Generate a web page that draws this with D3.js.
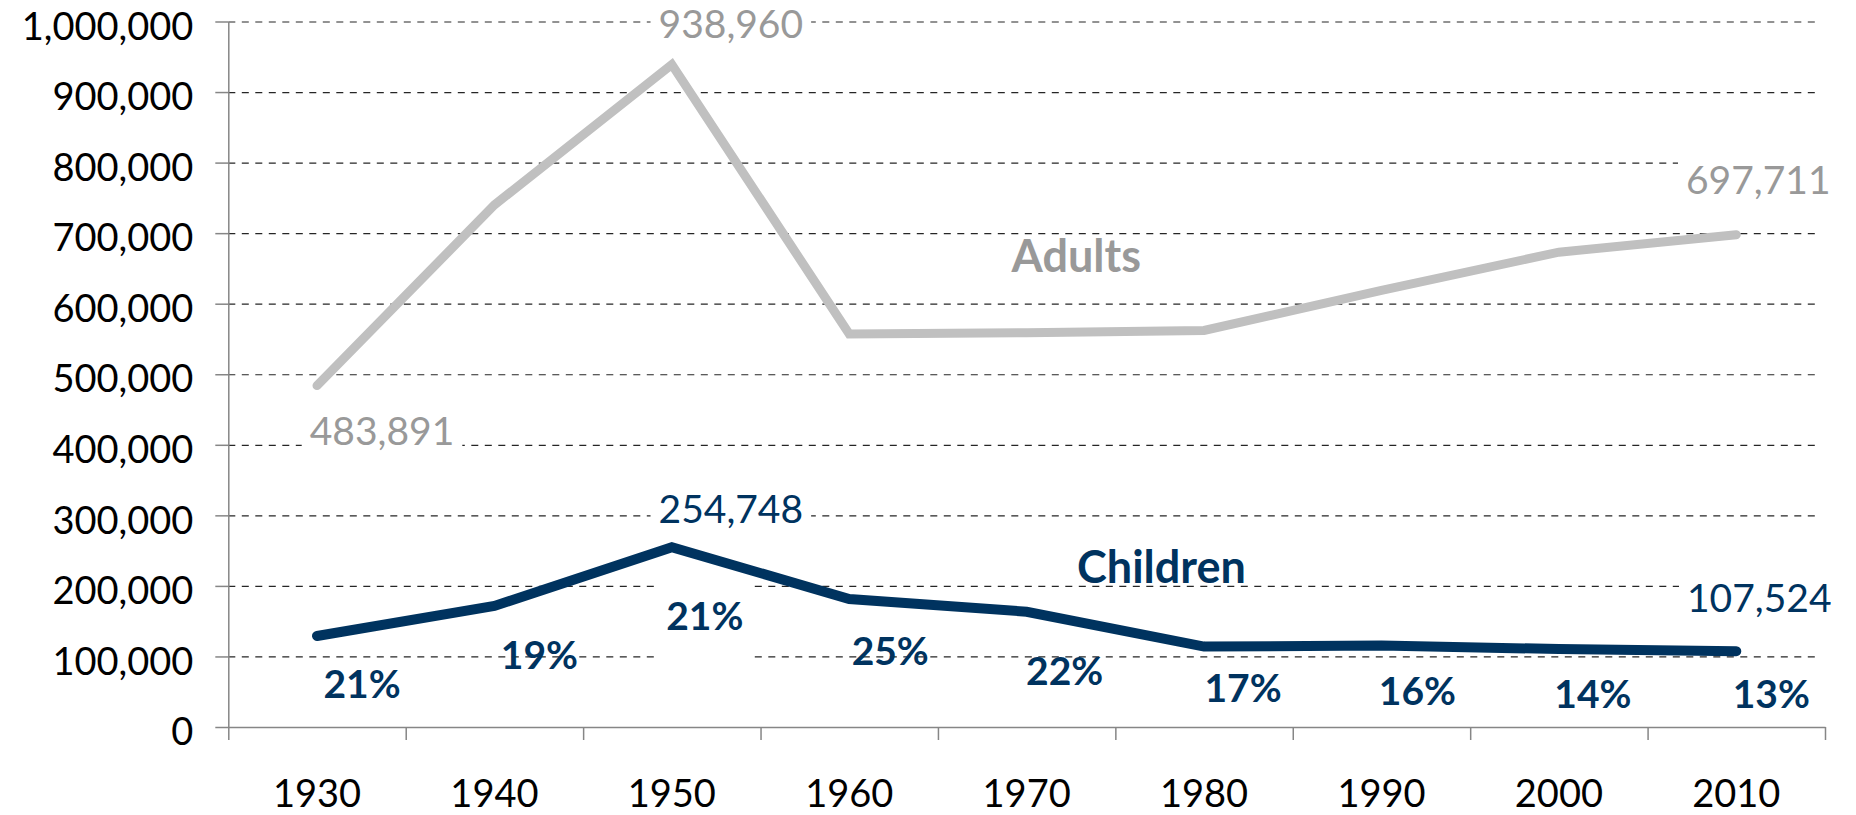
<!DOCTYPE html>
<html><head><meta charset="utf-8">
<script src="https://cdn.jsdelivr.net/npm/d3@7"></script>
<style>html,body{margin:0;padding:0;background:#fff;} svg{display:block;}</style>
</head><body><svg id="chart" width="1856" height="815"></svg>
<script>
// ---- data ----
const years = ["1930","1940","1950","1960","1970","1980","1990","2000","2010"];
const adults = [483891, 740000, 938960, 557000, 559000, 562000, 619000, 673000, 697711];
const children = [129000, 171500, 254748, 181500, 163400, 114000, 115500, 110500, 107524];
const childShare = ["21%","19%","21%","25%","22%","17%","16%","14%","13%"];
const yTickValues = [0,100000,200000,300000,400000,500000,600000,700000,800000,900000,1000000];

// ---- layout ----
const plot = {left:228.3, right:1825, top:21.5, bottom:727};
const FONT = "Lato, 'Open Sans', sans-serif";
const NAVY = "#00335f", GREY_LINE = "#c0c0c0", GREY_TXT = "#999999";
const svg = d3.select("#chart");
const x = d3.scaleBand().domain(years).range([plot.left, plot.right]).padding(0);
const bw = x.bandwidth();
const xc = d => x(d) + bw/2;
const y = d3.scaleLinear().domain([0,1000000]).range([plot.bottom, plot.top]);

// gridlines
svg.append("g").attr("transform",`translate(${plot.left},0)`)
  .call(d3.axisLeft(y).tickValues(yTickValues.filter(v=>v>0)).tickSize(-(plot.right-6-plot.left)).tickFormat(""))
  .call(g=>g.select(".domain").remove())
  .call(g=>g.selectAll("line").attr("stroke","#262626").attr("stroke-width",1.2).attr("stroke-dasharray","7,6.5"));

// y axis
svg.append("g").attr("transform",`translate(${plot.left},0)`)
  .call(d3.axisLeft(y).tickValues(yTickValues).tickSize(13).tickSizeOuter(0).tickPadding(22).tickFormat(d3.format(",")))
  .call(g=>g.select(".domain").attr("stroke","#868686").attr("stroke-width",1.5))
  .call(g=>g.selectAll(".tick line").attr("stroke","#868686").attr("stroke-width",1.5))
  .call(g=>g.selectAll("text").attr("dy",17.7).attr("font-family",FONT).attr("font-size",38).attr("fill","#000"));

// x axis boundaries
const xb = d3.scaleLinear().domain([0, years.length]).range([plot.left, plot.right]);
svg.append("g").attr("transform",`translate(0,${plot.bottom})`)
  .call(d3.axisBottom(xb).tickValues(d3.range(years.length+1)).tickSize(13).tickSizeOuter(0).tickFormat(""))
  .call(g=>g.select(".domain").attr("stroke","#868686").attr("stroke-width",1.5))
  .call(g=>g.selectAll(".tick line").attr("stroke","#868686").attr("stroke-width",1.5));
// x labels
svg.append("g").attr("transform",`translate(0,${plot.bottom})`)
  .call(d3.axisBottom(x).tickSize(0).tickPadding(0))
  .call(g=>g.select(".domain").remove())
  .call(g=>g.selectAll("text").attr("y",80).attr("dy",0).attr("font-family",FONT).attr("font-size",38).attr("fill","#000"));

const boxLayer = svg.append("g");
const lineLayer = svg.append("g");
const labelLayer = svg.append("g");

function addBox(t, px, py){
  const b = t.node().getBBox();
  boxLayer.append("rect").attr("x",b.x-px).attr("y",b.y-py).attr("width",b.width+2*px).attr("height",b.height+2*py).attr("fill","#fff");
}

// lines
const line = d3.line().x((d,i)=>xc(years[i])).y(d=>y(d));
lineLayer.append("path").datum(adults).attr("d",line).attr("fill","none")
  .attr("stroke",GREY_LINE).attr("stroke-width",9).attr("stroke-linecap","round").attr("stroke-linejoin","miter");
lineLayer.append("path").datum(children).attr("d",line).attr("fill","none")
  .attr("stroke",NAVY).attr("stroke-width",10).attr("stroke-linecap","round").attr("stroke-linejoin","miter");

// value labels
const fmt = d3.format(",");
const adultLabels = [{i:0,dx:65,dy:45},{i:2,dx:59,dy:-41},{i:8,dx:22,dy:-55}];
const childLabels = [{i:2,dx:59,dy:-38},{i:8,dx:23,dy:-53}];
adultLabels.forEach(l=>{
  const t = labelLayer.append("text").attr("x",xc(years[l.i])+l.dx).attr("y",y(adults[l.i])+l.dy+14)
    .attr("text-anchor","middle").attr("font-family",FONT).attr("font-size",39).attr("fill",GREY_TXT).text(fmt(adults[l.i]));
  addBox(t,8,4);
});
childLabels.forEach(l=>{
  const t = labelLayer.append("text").attr("x",xc(years[l.i])+l.dx).attr("y",y(children[l.i])+l.dy+14)
    .attr("text-anchor","middle").attr("font-family",FONT).attr("font-size",39).attr("fill",NAVY).text(fmt(children[l.i]));
  addBox(t,8,4);
});

// share labels
const shareDx = [45,45,33,41,38,39,36,34,35];
const shareDy = [48,49,69,52,59,41,45,45,43];
childShare.forEach((s,i)=>{
  const t = labelLayer.append("text").attr("x",xc(years[i])+shareDx[i]).attr("y",y(children[i])+shareDy[i]+14)
    .attr("text-anchor","middle").attr("font-family",FONT).attr("font-weight",700).attr("font-size",39).attr("fill",NAVY).text(s);
  if(i===2) addBox(t,9,40);
});

// series names
labelLayer.append("text").attr("x",x("1970")+0.78*bw).attr("y",y(645000))
  .attr("text-anchor","middle").attr("font-family",FONT).attr("font-weight",700).attr("font-size",45).attr("fill",GREY_TXT).text("Adults");
labelLayer.append("text").attr("x",x("1970")+1.26*bw).attr("y",y(204000))
  .attr("text-anchor","middle").attr("font-family",FONT).attr("font-weight",700).attr("font-size",45).attr("fill",NAVY).text("Children");
</script></body></html>
